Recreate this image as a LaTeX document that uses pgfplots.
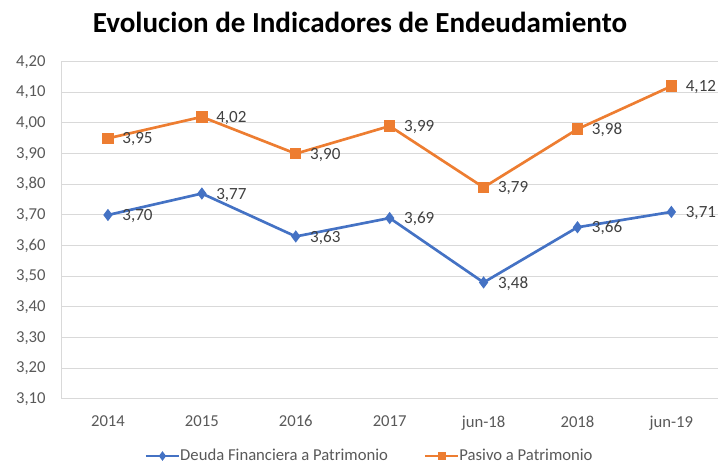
\documentclass[border=0pt]{standalone}
\usepackage{fontspec}
\setmainfont{Carlito}
\usepackage{pgfplots}
\pgfplotsset{compat=1.18}
\definecolor{cblue}{HTML}{4472C4}
\definecolor{corange}{HTML}{ED7D31}
\definecolor{cgrid}{HTML}{D9D9D9}
\definecolor{ctext}{HTML}{595959}
\definecolor{clabel}{HTML}{404040}
\begin{document}
\begin{tikzpicture}
\path[use as bounding box] (0,0) rectangle (540pt,349.5pt);
\node[font=\bfseries\fontsize{21.8}{26}\selectfont, text=black] at (270pt,333pt) {Evolucion de Indicadores de Endeudamiento};
\begin{axis}[
  at={(45.75pt,50.25pt)}, anchor=south west,
  scale only axis, width=493pt, height=253pt,
  xmin=-0.5, xmax=6.5, ymin=3.1, ymax=4.2,
  xtick={0,...,6},
  xticklabels={2014,2015,2016,2017,jun-18,2018,jun-19},
  ytick={3.1,3.2,...,4.21},
  /pgf/number format/assume math mode=true,
  tick label style={font=\fontsize{12.5}{15}\selectfont, text=ctext},
  ymajorgrids, grid style={cgrid, line width=0.75pt},
  axis x line*=bottom, axis y line*=left,
  axis line style={cgrid, line width=0.75pt},
  major tick length=0pt,
  xticklabel style={yshift=-9pt},
  yticklabel style={xshift=-8pt, /pgf/number format/.cd, fixed, fixed zerofill, precision=2, use comma},
  nodes near coords,
  every node near coord/.append style={font=\fontsize{12.8}{15}\selectfont, text=clabel, anchor=west, xshift=6.5pt, yshift=-0.8pt, /pgf/number format/.cd, fixed, fixed zerofill, precision=2, use comma, assume math mode=true},
  legend style={at={(0.470,-0.169)}, anchor=center, draw=none, font=\fontsize{12.5}{15}\selectfont, text=ctext, legend columns=2, /tikz/every even column/.append style={column sep=25pt}, /tikz/every odd column/.append style={column sep=-2pt}},
  legend image code/.code={\draw[mark repeat=2,mark phase=2,#1,line width=1.6pt,mark size=2.3pt] plot coordinates {(0cm,0cm) (0.44cm,0cm) (0.88cm,0cm)};},
]
\addplot[cblue, line width=2pt, mark=diamond*, mark size=3pt, mark options={solid, fill=cblue}] coordinates {
(0,3.70) (1,3.77) (2,3.63) (3,3.69) (4,3.48) (5,3.66) (6,3.71)};
\addlegendentry{Deuda Financiera a Patrimonio}
\addplot[corange, line width=2pt, mark=square*, mark size=3.3pt, mark options={solid, fill=corange}] coordinates {
(0,3.95) (1,4.02) (2,3.90) (3,3.99) (4,3.79) (5,3.98) (6,4.12)};
\addlegendentry{Pasivo a Patrimonio}
\end{axis}
\end{tikzpicture}
\end{document}
